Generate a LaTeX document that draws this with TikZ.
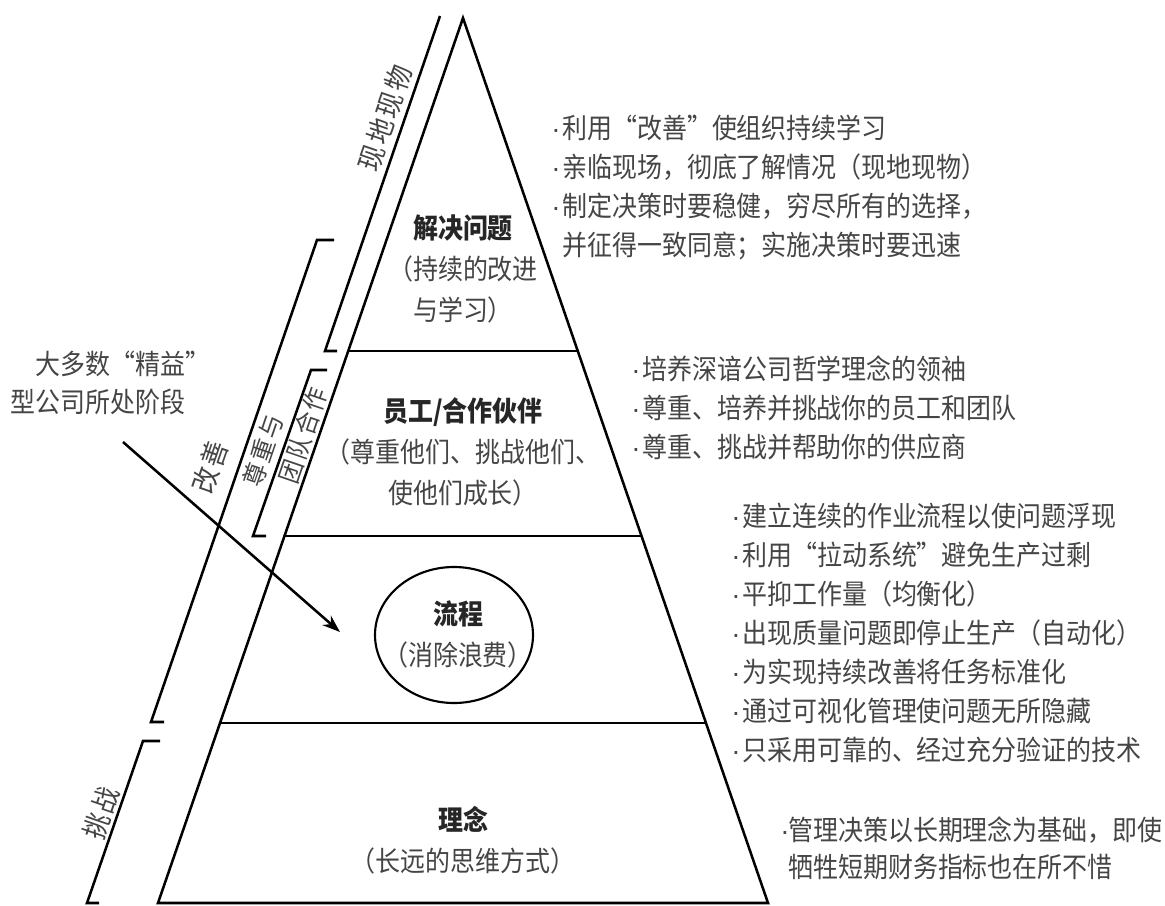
\documentclass[tikz,border=0pt]{standalone}
\usepackage{fontspec}
\setmainfont[FakeStretch=0.9]{Noto Sans CJK SC}
\newfontfamily\sidefont[LetterSpace=10,FakeStretch=0.9]{Noto Sans CJK SC}
\newfontfamily\latinfont{Liberation Sans}
\definecolor{txtgray}{rgb}{0.27,0.27,0.27}
\newcommand{\bul}{\makebox[8.25pt][l]{\latinfont\textperiodcentered}}
\newcommand{\nobul}{\hspace*{8.25pt}}

\tikzset{
  rim/.style={line width=1.9pt, line join=miter},
  listtext/.style={anchor=north west, inner sep=0pt, align=left, text=txtgray, font=\fontsize{20.8pt}{29.25pt}\selectfont},
  layertext/.style={anchor=north, inner sep=0pt, align=center, text=txtgray, font=\fontsize{20.8pt}{30.75pt}\selectfont},
  sidelabel/.style={inner sep=0pt, rotate=71, text=txtgray, font=\sidefont\fontsize{21pt}{21pt}\selectfont},
}

\begin{document}
\begin{tikzpicture}[x=0.75pt,y=0.75pt,yscale=-1,xscale=1]
\path[fill=white] (0,0) rectangle (1165,906);
\useasboundingbox (0,0) rectangle (1165,906);

%Pyramid
\draw[rim] (158,903) -- (463,18) -- (768,903) -- cycle;
%Straight Lines (layer dividers)
\draw[rim] (348.2,351) -- (577.8,351);
\draw[rim] (284.5,536) -- (641.5,536);
\draw[rim] (220.1,723) -- (705.9,723);

%Brackets on the left
\draw[rim] (440,16) -- (325,351) -- (337,351);
\draw[rim] (334,240) -- (317,240) -- (151,722) -- (164,722);
\draw[rim] (327,370) -- (311,370) -- (253,536) -- (266,536);
\draw[rim] (160,741) -- (143,741) -- (87,903) -- (99,903);

% Text Node
\node[sidelabel] (genchi) at (385,118) {现地现物};
% Text Node
\node[sidelabel] (kaizen) at (210,467) {改善};
% Text Node
\node[sidelabel, font=\sidefont\fontsize{19pt}{19pt}\selectfont] (respect) at (263,451) {尊重与};
% Text Node
\node[sidelabel, font=\sidefont\fontsize{19pt}{19pt}\selectfont] (teamwork) at (303,436) {团队合作};
% Text Node
\node[sidelabel] (challenge) at (101,813) {挑战};

% Text Node
\node[layertext] (problem) at (463,214.5) {\textcolor{black!85}{\textbf{解决问题}}\\（持续的改进\\与学习）};
% Text Node
\node[layertext] (people) at (463,397.5) {\textcolor{black!85}{\textbf{员工/合作伙伴}}\\（尊重他们、挑战他们、\\使他们成长）};
% Ellipse
\draw[line width=1.6pt] (454,635) ellipse [x radius=79, y radius=68];
\node[layertext] (process) at (458,600.5) {\textcolor{black!85}{\textbf{流程}}\\（消除浪费）};
% Text Node
\node[layertext] (philosophy) at (463,806.5) {\textcolor{black!85}{\textbf{理念}}\\（长远的思维方式）};

% Text Node
\node[listtext] (solvelist) at (551,114.5) {\bul 利用“改善”使组织持续学习\\\bul 亲临现场，彻底了解情况（现地现物）\\\bul 制定决策时要稳健，穷尽所有的选择，\\\nobul 并征得一致同意；实施决策时要迅速};
% Text Node
\node[listtext] (peoplelist) at (631,355.5) {\bul 培养深谙公司哲学理念的领袖\\\bul 尊重、培养并挑战你的员工和团队\\\bul 尊重、挑战并帮助你的供应商};
% Text Node
\node[listtext] (processlist) at (731,502.5) {\bul 建立连续的作业流程以使问题浮现\\\bul 利用“拉动系统”避免生产过剩\\\bul 平抑工作量（均衡化）\\\bul 出现质量问题即停止生产（自动化）\\\bul 为实现持续改善将任务标准化\\\bul 通过可视化管理使问题无所隐藏\\\bul 只采用可靠的、经过充分验证的技术};
% Text Node
\node[listtext, font=\fontsize{20.8pt}{27.75pt}\selectfont] (philolist) at (780,816) {\makebox[6pt][l]{\latinfont\textperiodcentered}管理决策以长期理念为基础，即使\\\hspace*{6pt}牺牲短期财务指标也在所不惜};

% Text Node
\node[listtext, font=\fontsize{20.8pt}{28.5pt}\selectfont] (note) at (10,350.5) {\hspace*{18.75pt}大多数“精益”\\型公司所处阶段};

%Straight Lines (arrow)
\coordinate (tail) at (123,442);
\coordinate (tip) at (340,632);
\draw[line width=1.9pt, shorten >=7pt] (tail) -- (tip);
\fill [shift={(340,632)}, rotate=221.2] (0,0) -- (18,-6.5) -- (12,0) -- (18,6.5) -- cycle;

\end{tikzpicture}
\end{document}
